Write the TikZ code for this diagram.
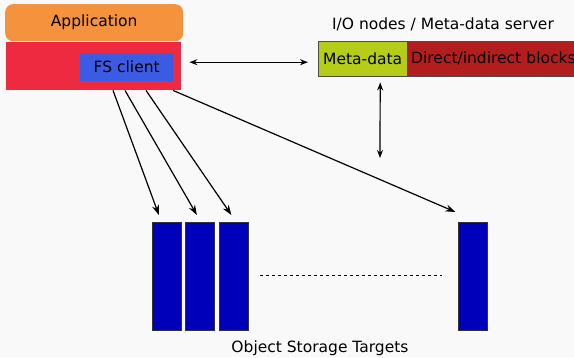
\documentclass[tikz,border=0pt]{standalone}
\usepackage{fontspec}
\setmainfont{DejaVu Sans}
\usetikzlibrary{arrows.meta}

\definecolor{bgcol}{HTML}{F9F9F9}
\definecolor{appcol}{HTML}{F5923E}
\definecolor{clientcol}{HTML}{EE2A41}
\definecolor{fscol}{HTML}{3B5BE3}
\definecolor{mdcol}{HTML}{B5CC18}
\definecolor{blkcol}{HTML}{B21E1E}
\definecolor{ostcol}{HTML}{0000BB}

\tikzset{
  lbl/.style={font=\fontsize{15.5}{17}\selectfont},
  box/.style={lbl, inner sep=0pt, anchor=north west},
  ostbar/.style={draw=black!80, fill=ostcol, line width=0.8pt, minimum width=29pt, minimum height=108pt, inner sep=0pt, anchor=north west},
  arr/.style={-{Stealth[length=10pt,width=7pt]}, line width=1.2pt},
  dbl/.style={{Stealth[length=8pt,width=6pt]}-{Stealth[length=8pt,width=6pt]}, line width=1.2pt}
}

\begin{document}
\begin{tikzpicture}[x=1pt,y=-1pt]
\clip (0,0) rectangle (574,357);
\fill[bgcol] (0,0) rectangle (574,357);

\node[box, fill=appcol, rounded corners=8pt, minimum width=178pt, minimum height=37pt] (app) at (5,4) {Application};
\node[box, fill=clientcol, minimum width=175pt, minimum height=48pt] (client) at (6,42) {};
\node[box, fill=fscol, minimum width=93pt, minimum height=28pt] (fs) at (80,53) {FS client};

\node[lbl] (mdslbl) at (443,24) {I/O nodes / Meta-data server};
\node[box, fill=mdcol, minimum width=89pt, minimum height=35pt] (meta) at (318,41) {Meta-data};
\node[box, fill=blkcol, minimum width=190pt, minimum height=35pt, text width=186pt, align=left, inner xsep=4pt] (blocks) at (407,41) {Direct/indirect blocks};
\draw[black!70, line width=1pt] (meta.north west) rectangle (blocks.south east);

\foreach \x/\n in {152/1, 185/2, 219/3, 458/4}
   \node[ostbar] (ost\n) at (\x,222) {};
\draw[dashed, line width=0.8pt] (260,275) -- (442,275);
\node[lbl] (ostlbl) at (320,348) {Object Storage Targets};

\coordinate (iolink) at (380,158);
\draw[dbl] ([xshift=8pt,yshift=4pt]client.east) -- ([xshift=-10pt,yshift=-3.5pt]meta.west);
\draw[dbl] ([xshift=17.5pt,yshift=-6pt]meta.south) -- (iolink);

\draw[arr] ([xshift=107pt]client.south west) -- ([xshift=-8pt,yshift=7pt]ost1.north);
\draw[arr] ([xshift=119pt]client.south west) -- ([xshift=-3pt,yshift=7pt]ost2.north);
\draw[arr] ([xshift=140pt]client.south west) -- ([xshift=-2.5pt,yshift=7pt]ost3.north);
\draw[arr] ([xshift=167pt]client.south west) -- ([xshift=-17.5pt,yshift=10pt]ost4.north);
\end{tikzpicture}
\end{document}
